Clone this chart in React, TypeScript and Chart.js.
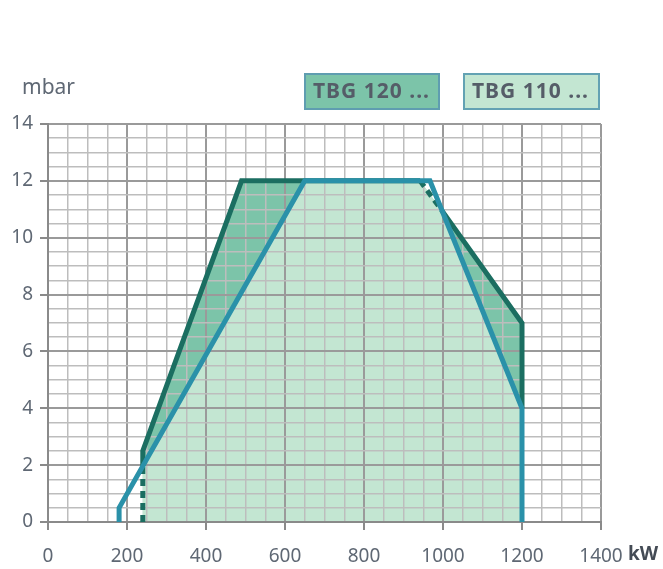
import React, { useEffect, useRef } from "react";
import { Chart, registerables } from "chart.js";

Chart.register(...registerables);

// TBG 120 working field (outline)
const tbg120X = [240, 240, 490, 942, 1200, 1200];
const tbg120Y = [0, 2.5, 12, 12, 7, 0];
// TBG 120 drawn boundary line
const tbg120LineX = [240, 240, 240, 490, 942, 1000, 1200, 1200];
const tbg120LineY = [0, 1.97, 2.5, 12, 12, 10.9, 7, 4];
const tbg120DashedSegments = [0, 4];
// TBG 110 boundary line
const tbg110X = [180, 180, 650, 967, 1200, 1200];
const tbg110Y = [0, 0.5, 12, 12, 4, 0];
// common area of both fields
const commonX = [240, 240, 650, 942, 1000, 1200, 1200];
const commonY = [0, 1.97, 12, 12, 10.9, 4, 0];

const xTicks = [0, 200, 400, 600, 800, 1000, 1200, 1400];
const yTicks = [0, 2, 4, 6, 8, 10, 12, 14];
const legendLabels = ["TBG 120 ...", "TBG 110 ..."];
const xUnit = "kW";
const yUnit = "mbar";

const pts = (xs: number[], ys: number[]) => xs.map((x, i) => ({ x, y: ys[i] }));

const FONT = "'Noto Sans', 'DejaVu Sans', sans-serif";
const TICK_COLOR = "#5f6874";
const MINOR = "#bdbdbd";
const MAJOR = "#9a9a9a";

export default function App() {
  const ref = useRef<HTMLCanvasElement | null>(null);
  useEffect(() => {
    if (!ref.current) return;
    const overlay = {
      id: "overlay",
      afterDraw(chart: any) {
        const ctx = chart.ctx;
        const xs = chart.scales.x;
        ctx.save();
        // units
        ctx.font = `21px ${FONT}`;
        ctx.fillStyle = TICK_COLOR;
        ctx.textBaseline = "middle";
        ctx.textAlign = "left";
        ctx.fillText(yUnit, 22, 88);
        ctx.font = `bold 19px ${FONT}`;
        ctx.fillStyle = "#444b55";
        ctx.textBaseline = "top";
        ctx.fillText(xUnit, 628, xs.bottom - 47 + 8 + 15);
        // legend boxes
        const boxes = [
          { x: 305, w: 134, fill: "#7cc4a9", stroke: "#5f9db0" },
          { x: 464, w: 135, fill: "#c3e6d2", stroke: "#63a2b3" },
        ];
        boxes.forEach((b, i) => {
          ctx.fillStyle = b.fill;
          ctx.fillRect(b.x, 74, b.w, 35);
          ctx.strokeStyle = b.stroke;
          ctx.lineWidth = 2;
          ctx.strokeRect(b.x, 74, b.w, 35);
          ctx.font = `bold 21px ${FONT}`;
          try {
            (ctx as any).letterSpacing = "1px";
          } catch (e) {}
          ctx.fillStyle = "#555d68";
          ctx.textBaseline = "middle";
          ctx.textAlign = "left";
          ctx.fillText(legendLabels[i], b.x + 8, 92);
          try {
            (ctx as any).letterSpacing = "0px";
          } catch (e) {}
        });
        ctx.restore();
      },
    };
    const chart = new Chart(ref.current, {
      type: "line",
      data: {
        datasets: [
          {
            label: "TBG 110",
            data: pts(tbg110X, tbg110Y),
            borderColor: "#2a91a9",
            borderWidth: 5,
            pointRadius: 0,
            fill: false,
            order: 0,
            borderJoinStyle: "miter",
          } as any,
          {
            label: "TBG 120",
            data: pts(tbg120LineX, tbg120LineY),
            borderColor: "#1b6e61",
            borderWidth: 5,
            pointRadius: 0,
            fill: false,
            order: 1,
            segment: {
              borderDash: (c: any) => (tbg120DashedSegments.includes(c.p0DataIndex) ? [7, 5] : undefined),
            },
          } as any,
          {
            label: "common",
            data: pts(commonX, commonY),
            borderWidth: 0,
            borderColor: "transparent",
            backgroundColor: "#c3e6d2",
            pointRadius: 0,
            fill: "shape",
            order: 2,
          } as any,
          {
            label: "TBG 120 field",
            data: pts(tbg120X, tbg120Y),
            borderWidth: 0,
            borderColor: "transparent",
            backgroundColor: "#7cc4a9",
            pointRadius: 0,
            fill: "shape",
            order: 3,
          } as any,
        ],
      },
      options: {
        animation: false,
        responsive: false,
        maintainAspectRatio: false,
        layout: { padding: { left: 0, right: 62, top: 124, bottom: 0 } },
        plugins: {
          legend: { display: false },
          tooltip: { enabled: false },
          filler: { drawTime: "beforeDraw" } as any,
        },
        scales: {
          x: {
            type: "linear",
            min: 0,
            max: 1400,
            afterFit: (s: any) => {
              s.height = 47;
            },
            afterBuildTicks: (s: any) => {
              const t = [];
              for (let v = 0; v <= 1400; v += 50) t.push({ value: v });
              s.ticks = t;
            },
            ticks: {
              autoSkip: false,
              maxRotation: 0,
              padding: 15,
              color: TICK_COLOR,
              font: { family: FONT, size: 19 },
              callback: (v: any) => (xTicks.includes(Number(v)) ? String(v) : ""),
            },
            grid: {
              color: (c: any) => (c.tick && c.tick.value % 200 === 0 ? MAJOR : MINOR),
              lineWidth: (c: any) => (c.tick && c.tick.value % 200 === 0 ? 2 : 1.5),
              tickColor: (c: any) => (c.tick && c.tick.value % 200 === 0 ? "#8a8a8a" : "rgba(0,0,0,0)"),
              tickLength: 8,
            },
            border: { display: true, color: "#8a8a8a", width: 2 },
          },
          y: {
            type: "linear",
            min: 0,
            max: 14,
            afterFit: (s: any) => {
              s.width = 48;
            },
            afterBuildTicks: (s: any) => {
              const t = [];
              for (let v = 0; v <= 14; v += 0.5) t.push({ value: v });
              s.ticks = t;
            },
            ticks: {
              autoSkip: false,
              padding: 7,
              color: TICK_COLOR,
              font: { family: FONT, size: 19 },
              callback: (v: any) => (yTicks.includes(Number(v)) ? String(v) : ""),
            },
            grid: {
              color: (c: any) => (c.tick && c.tick.value % 2 === 0 ? MAJOR : MINOR),
              lineWidth: (c: any) => (c.tick && c.tick.value % 2 === 0 ? 2 : 1.5),
              tickColor: (c: any) => (c.tick && c.tick.value % 2 === 0 ? "#8a8a8a" : "rgba(0,0,0,0)"),
              tickLength: 8,
            },
            border: { display: true, color: "#8a8a8a", width: 2 },
          },
        },
      },
      plugins: [overlay],
    });
    return () => chart.destroy();
  }, []);
  return (
    <div style={{ position: "fixed", left: 0, top: 0, width: 663, height: 569, background: "#fff" }}>
      <canvas ref={ref} width={663} height={569} style={{ width: 663, height: 569, display: "block" }} />
    </div>
  );
}
